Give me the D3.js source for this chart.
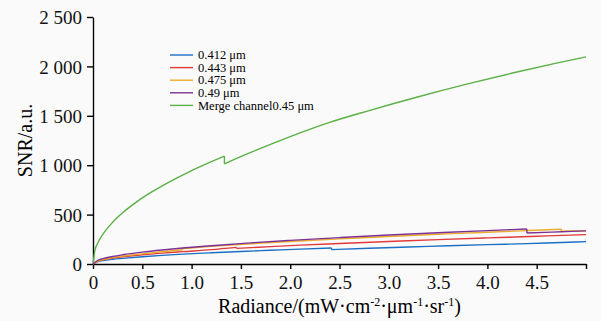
<!DOCTYPE html>
<html>
<head>
<meta charset="utf-8">
<script src="https://cdn.jsdelivr.net/npm/d3@7"></script>
<style>
  body { margin: 0; background: #fafafa; }
  svg { display: block; }
</style>
</head>
<body>
<div id="chart"></div>
<script>
// radiance / SNR pairs (repeated x = gain-switch step)
const ch412 = [[0,0],[0.05,25],[0.1,35],[0.2,48],[0.3,57],[0.5,73],[0.7,87],[0.91,100],[1.2,114],[1.5,127],[1.8,139],[2.1,151],[2.42,162],[2.42,145],[2.8,160],[3.2,172],[3.6,184],[4.0,196],[4.4,206],[4.75,218],[5.0,226]];
const ch443 = [[0,0],[0.05,30],[0.1,43],[0.2,60],[0.3,72],[0.5,93],[0.7,110],[0.91,125],[1.2,145],[1.455,168],[1.455,158],[1.8,176],[2.1,191],[2.5,208],[3.0,228],[3.5,247],[4.0,264],[4.5,281],[5.0,297]];
const ch475 = [[0,0],[0.05,33],[0.1,46],[0.2,65],[0.3,80],[0.5,103],[0.7,124],[0.91,145],[0.91,156],[1.2,178],[1.6,205],[2.0,228],[2.5,254],[3.0,279],[3.5,301],[4.0,322],[4.4,338],[4.75,351],[4.75,331],[5.0,338]];
const ch49 = [[0,0],[0.05,38],[0.1,54],[0.2,76],[0.3,93],[0.5,120],[0.7,142],[0.91,162],[1.2,185],[1.6,214],[2.0,239],[2.5,267],[3.0,293],[3.5,316],[4.0,338],[4.4,355],[4.4,314],[4.75,326],[5.0,335]];
const merge045 = [[0,0],[0.02,140],[0.05,215],[0.1,300],[0.2,423],[0.3,518],[0.45,634],[0.6,732],[0.8,845],[0.96,926],[1.15,1013],[1.333,1091],[1.333,1014],[1.6,1129],[2.0,1289],[2.4,1433],[2.8,1553],[3.3,1693],[3.8,1823],[4.3,1943],[4.7,2033],[5.0,2097]];

const seriesNames = ["0.412 μm", "0.443 μm", "0.475 μm", "0.49 μm", "Merge channel0.45 μm"];
const seriesData = [ch412, ch443, ch475, ch49, merge045];
const seriesColors = ["#1a6fc4", "#e23a3a", "#eeaa2c", "#7b3294", "#5bb046"];

const xTicks = [0, 0.5, 1.0, 1.5, 2.0, 2.5, 3.0, 3.5, 4.0, 4.5, 5.0];
const yTicks = [0, 500, 1000, 1500, 2000, 2500];

const serif = '"Liberation Serif", "Times New Roman", Times, "DejaVu Serif", serif';
const width = 601, height = 321;
const margin = { top: 17, right: 15, bottom: 57, left: 93 };

const svg = d3.select("#chart").append("svg")
  .attr("width", width)
  .attr("height", height)
  .style("font-family", serif);

svg.append("rect").attr("width", width).attr("height", height).attr("fill", "#fafafa");

const x = d3.scaleLinear().domain([0, 5]).range([margin.left, width - margin.right]);
const y = d3.scaleLinear().domain([0, 2500]).range([height - margin.bottom, margin.top]);

const fmtY = d => d === 0 ? "0" : d3.format(",")(d).replace(",", " ");
const fmtX = d => d === 0 ? "0" : d === 5 ? "" : d3.format(".1f")(d);

function styleAxis(g) {
  g.attr("font-family", serif).attr("font-size", 19);
  g.selectAll("path, line").attr("stroke", "#000").attr("stroke-width", 1.4);
  g.selectAll("text").attr("fill", "#111").style("font-family", serif).style("font-size", "19px");
}

svg.append("g")
  .attr("transform", `translate(0,${y(0)})`)
  .call(d3.axisBottom(x).tickValues(xTicks).tickFormat(fmtX).tickSize(5).tickSizeOuter(0))
  .call(styleAxis)
  .call(g => g.selectAll("text").attr("dy", "0.9em"));

svg.append("g")
  .attr("transform", `translate(${x(0)},0)`)
  .call(d3.axisLeft(y).tickValues(yTicks).tickFormat(fmtY).tickSize(6).tickSizeOuter(0))
  .call(styleAxis)
  .call(g => g.selectAll("text").attr("x", -11).attr("dy", "0.35em"));

// split a series at its steps so each smooth piece can be curved
function pieces(data) {
  const out = [[data[0]]];
  for (let i = 1; i < data.length; i++) {
    if (data[i][0] === data[i - 1][0]) out.push([]);
    out[out.length - 1].push(data[i]);
  }
  return out;
}

const line = d3.line().x(d => x(d[0])).y(d => y(d[1])).curve(d3.curveMonotoneX);

[4, 0, 1, 2, 3].forEach(i => {
  const g = svg.append("g");
  const segs = pieces(seriesData[i]);
  g.selectAll("path.seg")
    .data(segs)
    .enter()
    .append("path")
    .attr("class", "seg")
    .attr("fill", "none")
    .attr("stroke", seriesColors[i])
    .attr("stroke-width", 1.4)
    .attr("d", line);
  // vertical connectors at the steps
  for (let k = 1; k < segs.length; k++) {
    const a = segs[k - 1][segs[k - 1].length - 1], b = segs[k][0];
    g.append("line")
      .attr("x1", x(a[0])).attr("x2", x(b[0]))
      .attr("y1", y(a[1])).attr("y2", y(b[1]))
      .attr("stroke", seriesColors[i])
      .attr("stroke-width", 1.4);
  }
});

// legend
const legend = svg.append("g").attr("transform", "translate(170,55)");
seriesNames.forEach((name, i) => {
  const row = legend.append("g").attr("transform", `translate(0,${i * 12.6})`);
  row.append("line")
    .attr("x1", 0).attr("x2", 23)
    .attr("stroke", seriesColors[i]).attr("stroke-width", 1.4);
  row.append("text")
    .attr("x", 28).attr("dy", "0.33em")
    .style("font-family", serif)
    .style("font-size", "12.5px")
    .text(name);
});

// axis titles
const xt = svg.append("text")
  .attr("x", (x(0) + x(5)) / 2)
  .attr("y", 313)
  .attr("text-anchor", "middle")
  .style("font-family", serif)
  .style("font-size", "20px");
xt.append("tspan").text("Radiance/(mW·cm");
xt.append("tspan").attr("dy", -7).style("font-size", "12px").text("-2");
xt.append("tspan").attr("dy", 7).text("·μm");
xt.append("tspan").attr("dy", -7).style("font-size", "12px").text("-1");
xt.append("tspan").attr("dy", 7).text("·sr");
xt.append("tspan").attr("dy", -7).style("font-size", "12px").text("-1");
xt.append("tspan").attr("dy", 7).text(")");

svg.append("text")
  .attr("transform", `translate(32,${(y(0) + y(2500)) / 2}) rotate(-90)`)
  .attr("text-anchor", "middle")
  .style("font-family", serif)
  .style("font-size", "20px")
  .text("SNR/a.u.");
</script>
</body>
</html>
